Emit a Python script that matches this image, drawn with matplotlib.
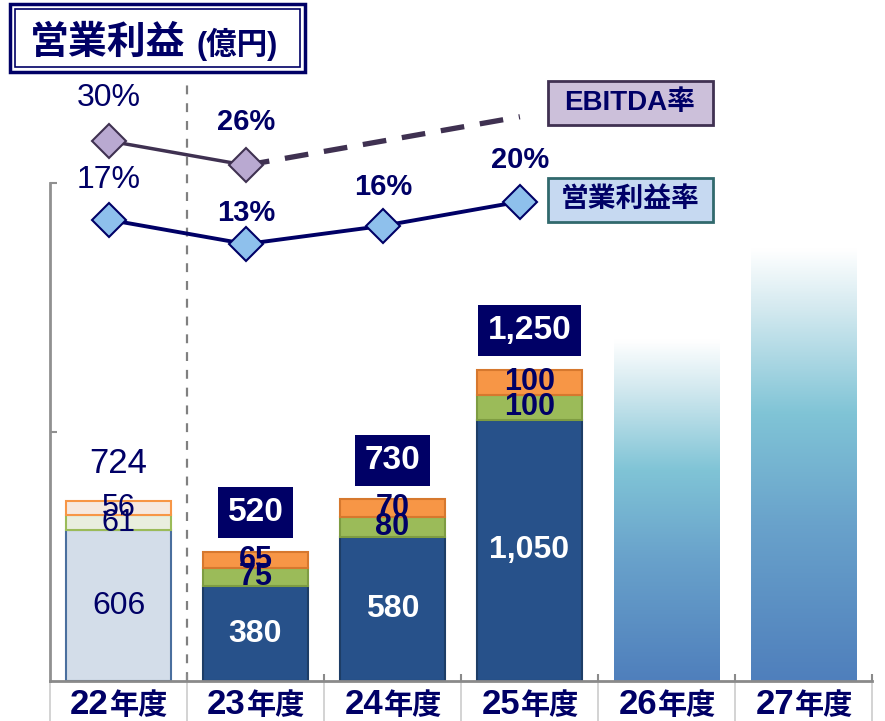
import matplotlib
matplotlib.use('Agg')
import matplotlib.pyplot as plt
import numpy as np
from matplotlib.colors import LinearSegmentedColormap
from matplotlib.patches import Rectangle
import matplotlib.transforms as mtransforms

plt.rcParams['font.family'] = ['Liberation Sans', 'Noto Sans CJK JP']

# データ (億円)
years = ['22', '23', '24', '25', '26', '27']
base = [606, 380, 580, 1050]
green = [61, 75, 80, 100]
orange = [56, 65, 70, 100]
totals = ['724', '520', '730', '1,250']
future = [1410, 1790]          # 26, 27年度 (値の表示なし)
op_margin = [17, 13, 16, 20]   # 営業利益率 %
ebitda = [30, 26]              # EBITDA率 %
ebitda_target = 34             # 25年度 点線の先 (表示なし)

navy = '#000066'
W, H = 885, 721

fig = plt.figure(figsize=(W / 100, H / 100), dpi=100)
ax = fig.add_axes([50 / W, (H - 681) / H, 822 / W, 601 / H])
ax.set_xlim(-0.5, 5.5)
ax.set_ylim(0, 601 / 0.249)

bw = 0.77
x = np.arange(len(base))

# 積み上げ棒
for i in x:
    if i == 0:
        c = ['#d3dde9', '#e9eedf', '#f6e9e0']
        e = ['#4a6f9e', '#9bbb59', '#f79646']
        tc, tw = navy, 'normal'
    else:
        c = ['#27518a', '#9bbb59', '#f79646']
        e = ['#1d3d66', '#7e9c42', '#d6782e']
        tc, tw = 'white', 'bold'
    ax.bar(i, base[i], bw, color=c[0], edgecolor=e[0], lw=1.5)
    ax.bar(i, green[i], bw, bottom=base[i], color=c[1], edgecolor=e[1], lw=1.5)
    ax.bar(i, orange[i], bw, bottom=base[i] + green[i], color=c[2], edgecolor=e[2], lw=1.5)
    lab = f'{base[i]:,}'
    ax.text(i, base[i] / 2, lab, ha='center', va='center', color=tc,
            fontsize=23, fontweight=tw)
    sw = 'normal' if i == 0 else 'bold'
    ax.text(i, base[i] + green[i] / 2, str(green[i]), ha='center', va='center',
            color=navy, fontsize=22, fontweight=sw)
    ax.text(i, base[i] + green[i] + orange[i] / 2, str(orange[i]), ha='center',
            va='center', color=navy, fontsize=22, fontweight=sw)
    top = base[i] + green[i] + orange[i]
    if i == 0:
        ax.annotate(totals[i], (i, top), xytext=(0, 27), textcoords='offset points',
                    ha='center', va='center', color=navy, fontsize=25)
    else:
        ax.annotate(totals[i], (i, top), xytext=(0, 28), textcoords='offset points',
                    ha='center', va='center', color='white', fontsize=24,
                    fontweight='bold',
                    bbox=dict(boxstyle='square,pad=0.3', fc=navy, ec='none'))

# 26, 27年度 グラデーション棒
cmap = LinearSegmentedColormap.from_list('fade', [
    (0.0, '#4f7fbc'), (0.35, '#69a2cb'), (0.6, '#80c4d6'),
    (0.84, '#d5eaf0'), (0.97, '#ffffff'), (1.0, '#ffffff')])
grad = np.linspace(0, 1, 256).reshape(-1, 1)
for k, h in enumerate(future):
    xi = len(base) + k
    rect = Rectangle((xi - bw / 2, 0), bw, h, fc='none', ec='none')
    ax.add_patch(rect)
    im = ax.imshow(grad, extent=[xi - bw / 2, xi + bw / 2, 0, h], origin='lower',
                   aspect='auto', cmap=cmap, zorder=1)
    im.set_clip_path(rect)
ax.set_xlim(-0.5, 5.5)
ax.set_ylim(0, 601 / 0.249)

# 軸
for s in ['top', 'right']:
    ax.spines[s].set_visible(False)
ax.spines['left'].set_color('#909090')
ax.spines['left'].set_linewidth(2)
ax.spines['left'].set_bounds(0, 2000)
ax.spines['bottom'].set_color('#8a8a8a')
ax.spines['bottom'].set_linewidth(2)
ax.set_yticks([1000, 2000])
ax.tick_params(axis='y', direction='in', length=5, width=1.5, color='#909090',
               labelleft=False)
ax.set_xticks([])
ax.set_xticks(np.arange(0.5, 5.6, 1), minor=True)
ax.tick_params(axis='x', which='minor', direction='in', length=5, width=1.5,
               color='#8a8a8a', labelbottom=False)
ax.axvline(0.5, color='#808080', ls=(0, (4, 4)), lw=1.6, zorder=0)

tr = mtransforms.blended_transform_factory(ax.transData, ax.transAxes)
ax.vlines(np.arange(-0.5, 5.6, 1), -0.07, 0, transform=tr, color='#cccccc',
          lw=1.2, clip_on=False)
for i, y in enumerate(years):
    ax.text(i - 0.07, -0.055, y, transform=tr, ha='right', va='baseline',
            color=navy, fontsize=25, fontweight='bold')
    ax.text(i - 0.06, -0.055, '年度', transform=tr, ha='left', va='baseline',
            color=navy, fontsize=21, fontweight='bold')

# 利益率の折れ線
ax2 = ax.twinx()
ax2.set_ylim(30 - 540 / 6.06, 30 + 61 / 6.06)
ax2.axis('off')
xl = np.arange(len(op_margin)) - 0.07
ax2.plot([xl[1], xl[3]], [ebitda[1], ebitda_target], color='#3f3151', lw=3.8,
         ls=(0, (4.5, 3)), zorder=2)
ax2.plot(xl[:2], ebitda, color='#3f3151', lw=2.5, marker='D', ms=17,
         mfc='#b9a9d1', mec='#3f3151', mew=1.5, zorder=3)
ax2.plot(xl, op_margin, color=navy, lw=2.8, marker='D', ms=17,
         mfc='#8ec0ec', mec=navy, mew=1.5, zorder=3)
offs = [29, 22, 28, 30]
for i, v in enumerate(op_margin):
    ax2.annotate(f'{v}%', (xl[i], v), xytext=(0, offs[i]), textcoords='offset points',
                 ha='center', va='center', color=navy,
                 fontsize=23 if i == 0 else 21,
                 fontweight='normal' if i == 0 else 'bold')
for i, v in enumerate(ebitda):
    ax2.annotate(f'{v}%', (xl[i], v), xytext=(0, 31), textcoords='offset points',
                 ha='center', va='center', color=navy,
                 fontsize=23 if i == 0 else 21,
                 fontweight='normal' if i == 0 else 'bold')

# 凡例ボックス
fig.patches.append(Rectangle((548 / W, 1 - 125 / H), 165 / W, 44 / H,
                             transform=fig.transFigure, fc='#ccc0da',
                             ec='#403152', lw=2))
fig.text(630 / W, 1 - 103 / H, 'EBITDA率', ha='center', va='center', color=navy,
         fontsize=20, fontweight='bold')
fig.patches.append(Rectangle((548 / W, 1 - 222 / H), 165 / W, 44 / H,
                             transform=fig.transFigure, fc='#c6d9f1',
                             ec='#31696d', lw=2))
fig.text(630 / W, 1 - 200 / H, '営業利益率', ha='center', va='center', color=navy,
         fontsize=20, fontweight='bold')

# タイトル
fig.patches.append(Rectangle((10 / W, 1 - 72 / H), 295 / W, 68 / H,
                             transform=fig.transFigure, fc='white',
                             ec=navy, lw=2.5))
fig.patches.append(Rectangle((15 / W, 1 - 67 / H), 285 / W, 58 / H,
                             transform=fig.transFigure, fc='none',
                             ec=navy, lw=1.2))
fig.text(30 / W, 1 - 54 / H, '営業利益', ha='left', va='baseline', color=navy,
         fontsize=28, fontweight='bold')
fig.text(197 / W, 1 - 54 / H, '(億円)', ha='left', va='baseline', color=navy,
         fontsize=22, fontweight='bold')

fig.savefig('out.png', dpi=100)
